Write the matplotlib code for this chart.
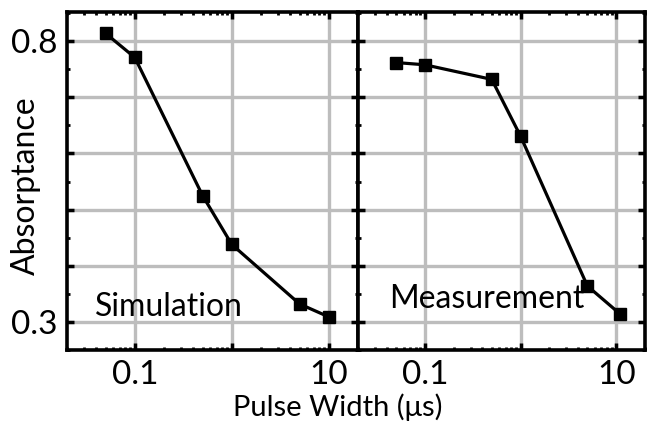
import numpy as np
import matplotlib
matplotlib.use("Agg")
from matplotlib import pyplot as plt
from matplotlib.ticker import LogLocator, MultipleLocator, NullFormatter, FixedLocator, FixedFormatter

plt.rcParams['font.family'] = ['Lato', 'DejaVu Sans']

# pulse width (us) and absorptance
sim_x = [0.05, 0.1, 0.5, 1.0, 5.0, 10.0]
sim_y = [0.814, 0.771, 0.525, 0.438, 0.332, 0.309]

meas_x = [0.05, 0.1, 0.5, 1.0, 5.0, 11.0]
meas_y = [0.762, 0.758, 0.732, 0.631, 0.364, 0.314]

panel_names = ['Simulation', 'Measurement']

fig = plt.figure(figsize=(6.51, 4.26), dpi=100)
ax1 = fig.add_axes([0.1029, 0.1784, 0.447, 0.7934])
ax2 = fig.add_axes([0.5499, 0.1784, 0.4409, 0.7934])

grid_col = '#bdbdbd'

for ax, xs, ys in [(ax1, sim_x, sim_y), (ax2, meas_x, meas_y)]:
    ax.set_xscale('log')
    ax.set_xlim(0.02, 20)
    ax.set_ylim(0.25, 0.852)
    ax.plot(xs, ys, color='black', lw=2.3, marker='s', ms=8, zorder=3)

    ax.xaxis.set_major_locator(FixedLocator([0.1, 1, 10]))
    ax.xaxis.set_major_formatter(FixedFormatter(['0.1', '', '10']))
    ax.xaxis.set_minor_locator(LogLocator(base=10, subs=np.arange(2, 10)))
    ax.xaxis.set_minor_formatter(NullFormatter())

    ax.set_yticks([0.3, 0.4, 0.5, 0.6, 0.7, 0.8])
    ax.yaxis.set_minor_locator(MultipleLocator(0.05))

    ax.grid(True, which='major', color=grid_col, lw=2.4, zorder=0)
    ax.tick_params(which='major', direction='in', length=5, width=2.5,
                   top=True, right=True, labelsize=24, pad=7)
    ax.tick_params(which='minor', direction='in', length=2.5, width=2,
                   top=True, right=True)
    for sp in ax.spines.values():
        sp.set_linewidth(2.6)

ax1.set_yticklabels(['0.3', '', '', '', '', '0.8'])
ax2.set_yticklabels([])

ax1.set_ylabel('Absorptance', fontsize=23)
ax1.yaxis.set_label_coords(-0.088, 0.485)
fig.text(0.519, 0.045, 'Pulse Width (\u03bcs)', fontsize=21, ha='center', va='center')

ax1.text(0.039, 0.327, panel_names[0], fontsize=23, va='center', ha='left')
ax2.text(0.042, 0.340, panel_names[1], fontsize=23, va='center', ha='left')

fig.savefig('out.png', dpi=100)
